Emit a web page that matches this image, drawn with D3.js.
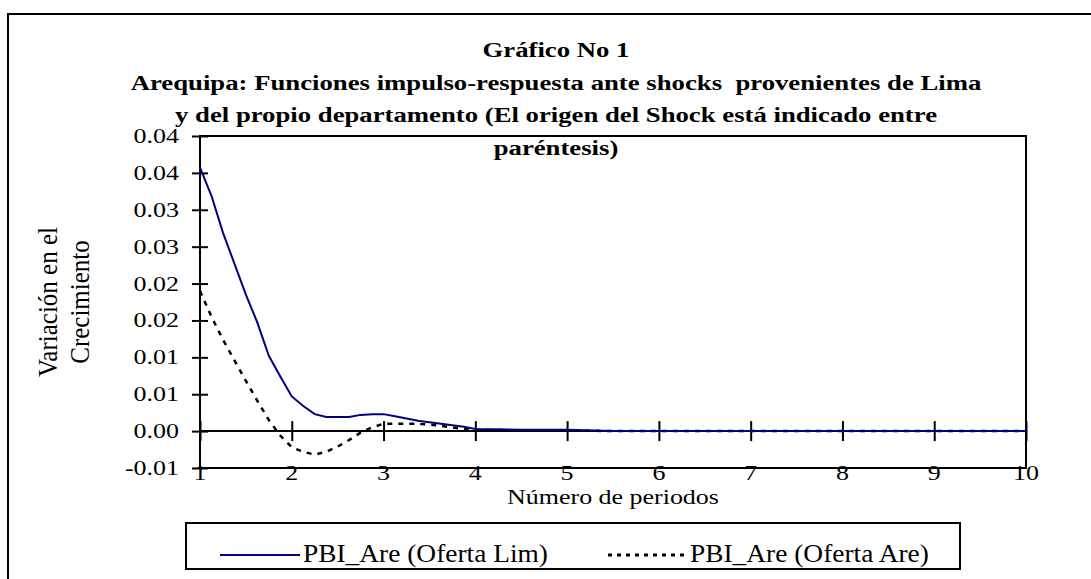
<!DOCTYPE html>
<html><head><meta charset="utf-8">
<script src="https://cdn.jsdelivr.net/npm/d3@7"></script>
<style>body{margin:0;background:#fff}svg{display:block}text{font-family:"Liberation Serif","Times New Roman",serif;fill:#000;white-space:pre}</style>
</head><body>
<svg id="c" width="1091" height="579"></svg>
<script>
const titleLines = ["Gráfico No 1",
  "Arequipa: Funciones impulso-respuesta ante shocks  provenientes de Lima",
  "y del propio departamento (El origen del Shock está indicado entre",
  "paréntesis)"];
const yTitleLines = ["Variación en el", "Crecimiento"];
const xTitle = "Número de periodos";
const seriesNames = ["PBI_Are (Oferta Lim)", "PBI_Are (Oferta Are)"];
const xTicks = [1,2,3,4,5,6,7,8,9,10];
const yTicks = [-0.005,0,0.005,0.01,0.015,0.02,0.025,0.03,0.035,0.04];
const yTickLabels = ["-0.01","0.00","0.01","0.01","0.02","0.02","0.03","0.03","0.04","0.04"];
const periods = [1,1.125,1.25,1.375,1.5,1.625,1.75,1.875,2,2.125,2.25,2.375,2.5,2.625,2.75,2.875,3,3.125,3.25,3.375,3.5,3.625,3.75,3.875,4,4.5,5,5.5,6,7,8,9,10];
const oferLim = [0.0357,0.0319,0.0269,0.0227,0.0185,0.0147,0.0102,0.0074,0.0047,0.0034,0.0023,0.0019,0.0019,0.0019,0.0022,0.0023,0.0023,0.0020,0.0017,0.0014,0.0012,0.0010,0.0008,0.0006,0.0003,0.0002,0.0002,0.0000,0,0,0,0,0];
const oferAre = [0.0190,0.0155,0.0124,0.0096,0.0068,0.0041,0.0015,-0.0006,-0.0022,-0.0028,-0.0032,-0.0028,-0.0021,-0.0012,-0.0002,0.0005,0.0010,0.0010,0.0010,0.0010,0.0009,0.0007,0.0005,0.0003,0.0002,0.0001,0.0001,0,0,0,0,0,0];

const svg = d3.select("#c");
const L=200,R=1026,T=136,B=468;
const x = d3.scaleLinear().domain([1,10]).range([L,R]);
const y = d3.scaleLinear().domain([-0.005,0.04]).range([B,T]);

function txt(px,py,s,size,anchor,weight,sx){
  return svg.append("text").attr("transform",`translate(${px},${py}) scale(${sx||1.18},1)`)
    .attr("text-anchor",anchor).attr("font-size",size).attr("font-weight",weight||"normal").text(s);
}
// outer frame
svg.append("rect").attr("x",8).attr("y",14).attr("width",1200).attr("height",700)
  .attr("fill","none").attr("stroke","#000").attr("stroke-width",2);
// title
const tb=[57,90,122,155];
titleLines.forEach((t,i)=>txt(556,tb[i],t,22,"middle","bold",1.215));
// plot box
svg.append("rect").attr("x",L).attr("y",T).attr("width",R-L).attr("height",B-T)
  .attr("fill","none").attr("stroke","#000").attr("stroke-width",2);
// y axis
const ya = svg.append("g").attr("transform",`translate(${L},0)`)
  .call(d3.axisLeft(y).tickValues(yTicks).tickSize(8).tickFormat(""));
ya.select(".domain").remove();
ya.selectAll(".tick line").attr("x1",8).attr("stroke","#000").attr("stroke-width",2);
yTicks.forEach((v,i)=>txt(179,y(v)+7,yTickLabels[i],22,"end"));
// x axis at zero
const xa = svg.append("g").attr("transform",`translate(0,${y(0)})`)
  .call(d3.axisBottom(x).tickValues(xTicks).tickSize(10).tickFormat(""));
xa.select(".domain").attr("d",`M${L},0H${R}`).attr("stroke","#000").attr("stroke-width",2);
xa.selectAll(".tick line").attr("y1",-10).attr("stroke","#000").attr("stroke-width",2);
xTicks.forEach(v=>txt(x(v),480,String(v),22,"middle"));
// titles
txt(613,504,xTitle,22,"middle");
yTitleLines.forEach((t,i)=>{
  svg.append("text").attr("transform",`translate(${[57,89][i]},${(T+B)/2}) rotate(-90) scale(1,1.05)`)
    .attr("text-anchor","middle").attr("font-size",25).text(t);
});
// lines
const line = d3.line().x(d=>x(d[0])).y(d=>y(d[1]));
svg.append("path").datum(periods.map((p,i)=>[p,oferAre[i]])).attr("d",line)
  .attr("fill","none").attr("stroke","#000").attr("stroke-width",2.5).attr("stroke-dasharray","5,6");
svg.append("path").datum(periods.map((p,i)=>[p,oferLim[i]])).attr("d",line)
  .attr("fill","none").attr("stroke","#000080").attr("stroke-width",2);
// legend
svg.append("rect").attr("x",186).attr("y",523).attr("width",774).attr("height",46)
  .attr("fill","none").attr("stroke","#000").attr("stroke-width",2);
svg.append("line").attr("x1",220).attr("x2",300).attr("y1",555).attr("y2",555).attr("stroke","#000080").attr("stroke-width",2);
txt(303,562,seriesNames[0],25,"start",null,1.096);
svg.append("line").attr("x1",608).attr("x2",687).attr("y1",555).attr("y2",555).attr("stroke","#000").attr("stroke-width",3).attr("stroke-dasharray","4,5");
txt(690,562,seriesNames[1],25,"start",null,1.096);
</script>
</body></html>
